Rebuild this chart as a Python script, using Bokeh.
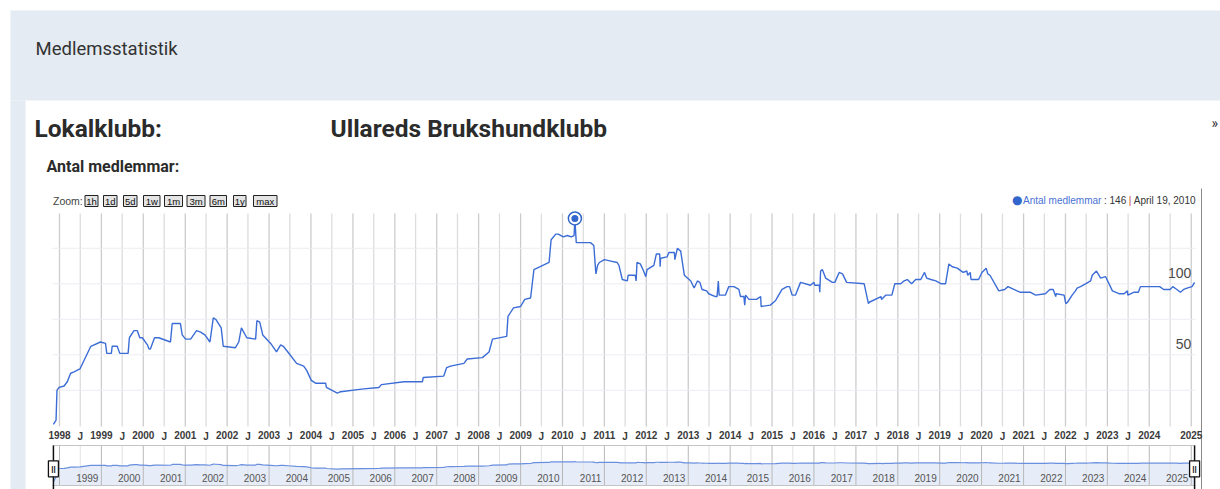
import numpy as np
import pandas as pd
from bokeh.plotting import figure
from bokeh.models import Range1d, LinearScale, LogScale
from bokeh.embed import file_html
from bokeh.resources import INLINE
from bokeh.core.properties import value

# ---------------- data ----------------
dates = [
    "1997-11-09", "1997-12-02", "1997-12-10", "1997-12-28", "1998-02-10", "1998-03-10",
    "1998-04-08", "1998-05-08", "1998-06-28", "1998-10-01", "1998-12-24", "1999-02-06",
    "1999-02-17", "1999-03-29", "1999-04-05", "1999-05-19", "1999-06-10", "1999-08-22",
    "1999-09-02", "1999-10-12", "1999-11-10", "1999-12-02", "1999-12-24", "2000-02-06",
    "2000-02-20", "2000-03-03", "2000-04-08", "2000-05-15", "2000-08-25", "2000-09-09",
    "2000-11-20", "2000-12-05", "2001-01-04", "2001-02-17", "2001-04-09", "2001-05-15",
    "2001-06-21", "2001-08-04", "2001-09-02", "2001-09-24", "2001-11-10", "2001-11-28",
    "2002-03-14", "2002-04-12", "2002-05-05", "2002-06-21", "2002-09-06", "2002-09-17",
    "2002-10-12", "2002-11-07", "2003-01-15", "2003-03-07", "2003-04-12", "2003-05-05",
    "2003-06-14", "2003-08-29", "2003-10-30", "2003-11-25", "2004-01-04", "2004-02-10",
    "2004-05-08", "2004-05-15", "2004-08-18", "2004-09-16", "2005-04-05", "2005-08-15",
    "2005-09-06", "2006-03-22", "2006-08-29", "2006-09-06", "2007-03-03", "2007-03-29",
    "2007-05-01", "2007-08-26", "2007-09-24", "2008-02-03", "2008-04-01", "2008-05-01",
    "2008-09-02", "2008-09-13", "2008-10-31", "2009-01-01", "2009-02-06", "2009-03-29",
    "2009-04-27", "2009-09-06", "2009-09-24", "2009-11-03", "2009-11-25", "2010-01-08",
    "2010-02-14", "2010-03-18", "2010-04-12", "2010-04-19", "2010-05-01", "2010-09-02",
    "2010-10-01", "2010-10-19", "2010-11-03", "2010-11-18", "2011-01-01", "2011-02-28",
    "2011-04-23", "2011-05-08", "2011-06-06", "2011-07-20", "2011-07-27", "2011-09-27",
    "2011-10-05", "2011-10-12", "2011-11-10", "2011-12-09", "2011-12-28", "2012-01-08",
    "2012-03-07", "2012-03-29", "2012-04-27", "2012-05-01", "2012-05-05", "2012-07-01",
    "2012-07-16", "2012-09-02", "2012-09-06", "2012-09-28", "2012-10-27", "2012-11-28",
    "2013-01-23", "2013-02-21", "2013-03-22", "2013-04-12", "2013-05-01", "2013-06-10",
    "2013-06-28", "2013-08-26", "2013-09-09", "2013-09-20", "2013-09-27", "2013-11-20",
    "2013-12-20", "2014-02-03", "2014-03-18", "2014-04-01", "2014-05-01", "2014-05-08",
    "2014-05-15", "2014-06-14", "2014-08-18", "2014-09-24", "2014-09-28", "2014-12-17",
    "2015-01-30", "2015-02-28", "2015-03-29", "2015-05-12", "2015-06-03", "2015-06-25",
    "2015-07-24", "2015-09-06", "2015-12-02", "2016-01-01", "2016-01-08", "2016-02-17",
    "2016-02-21", "2016-02-28", "2016-03-14", "2016-04-12", "2016-06-10", "2016-07-01",
    "2016-08-08", "2016-09-06", "2016-10-12", "2017-03-14", "2017-04-20", "2017-04-27",
    "2017-08-08", "2017-08-12", "2017-09-17", "2017-11-10", "2017-12-06", "2018-01-26",
    "2018-02-24", "2018-03-25", "2018-05-01", "2018-06-06", "2018-07-20", "2018-08-22",
    "2018-09-09", "2018-10-16", "2018-11-28", "2019-01-15", "2019-02-21", "2019-03-22",
    "2019-04-20", "2019-06-03", "2019-07-24", "2019-08-26", "2019-09-02", "2019-09-24",
    "2019-10-01", "2019-12-06", "2020-01-04", "2020-02-10", "2020-02-24", "2020-03-14",
    "2020-05-30", "2020-07-20", "2020-08-18", "2020-10-08", "2020-12-05", "2021-03-03",
    "2021-04-16", "2021-07-09", "2021-08-18", "2021-09-16", "2021-10-08", "2021-10-12",
    "2021-12-20", "2022-01-04", "2022-01-19", "2022-02-28", "2022-03-29", "2022-04-12",
    "2022-05-12", "2022-06-25", "2022-08-08", "2022-08-22", "2022-09-28", "2022-11-03",
    "2022-12-17", "2023-02-14", "2023-04-12", "2023-05-27", "2023-06-25", "2023-06-28",
    "2023-08-18", "2023-09-28", "2023-10-16", "2023-12-24", "2024-04-01", "2024-05-05",
    "2024-07-01", "2024-07-24", "2024-08-29", "2024-09-28", "2024-10-27", "2024-11-25",
    "2025-01-08", "2025-01-30",
]
members = [
    1, 4, 25, 27, 28, 31,
    37, 38, 40, 56, 59, 58,
    51, 51, 56, 56, 51, 51,
    62, 67, 67, 62, 62, 57,
    54, 54, 62, 62, 59, 72,
    72, 64, 61, 61, 67, 66,
    64, 59, 76, 75, 69, 56,
    55, 59, 69, 62, 61, 74,
    73, 64, 58, 52, 57, 56,
    52, 44, 42, 39, 32, 30,
    30, 27, 23, 24, 26, 27,
    29, 31, 31, 34, 35, 41,
    42, 44, 47, 48, 52, 61,
    63, 77, 83, 84, 89, 90,
    110, 115, 131, 135, 135, 133,
    134, 133, 134, 146, 129, 129,
    127, 107, 113, 115, 117, 116,
    115, 113, 103, 102, 106, 106,
    102, 115, 114, 109, 105, 110,
    113, 121, 121, 112, 118, 119,
    122, 122, 117, 125, 123, 106,
    102, 97, 102, 101, 96, 95,
    93, 91, 91, 102, 92, 92,
    98, 98, 96, 91, 91, 85,
    92, 89, 89, 91, 84, 85,
    88, 92, 96, 98, 98, 92,
    92, 101, 99, 101, 99, 99,
    94, 109, 110, 104, 101, 101,
    108, 107, 101, 100, 86, 87,
    91, 89, 92, 92, 100, 100,
    102, 103, 100, 103, 103, 108,
    104, 103, 102, 100, 100, 114,
    112, 111, 108, 109, 106, 108,
    103, 103, 108, 111, 107, 106,
    95, 96, 98, 96, 94, 94,
    92, 93, 96, 96, 91, 93,
    92, 86, 87, 92, 95, 97,
    98, 100, 102, 106, 109, 104,
    105, 95, 93, 93, 95, 92,
    94, 94, 98, 98, 98, 96,
    96, 98, 96, 94, 96, 97,
    98, 101,
]
years = list(range(1998, 2026))
year_tick_dates = [f"{y}-01-01" for y in years]
july_tick_dates = [f"{y}-07-01" for y in years[:-1]]
axis_tick_dates = year_tick_dates + [d for d in july_tick_dates if d != "2024-07-01"]
axis_tick_labels = [d[:4] for d in year_tick_dates] + ["J"] * (len(axis_tick_dates) - len(year_tick_dates))
nav_label_dates = year_tick_dates[1:]
nav_labels = [d[:4] for d in nav_label_dates]
value_ticks = [50, 100]
value_grid = [25, 50, 75, 100, 125]
series_name = "Antal medlemmar"
zoom_buttons = ["1h", "1d", "5d", "1w", "1m", "3m", "6m", "1y", "max"]

# ---------------- page geometry (pixels) ----------------
W, H = 1220, 489
CL, CR = 52, 1195          # chart left / right
CT, CB = 213, 426          # chart top / bottom
NT, NB = 445, 485          # navigator top / bottom
T0, T1 = pd.Timestamp("1997-11-01"), pd.Timestamp("2025-02-07")   # chart time extent
V0, V1 = -0.5, 149.5       # chart value extent
N0, N1 = 0.447, 6877.0     # navigator (log) value extent

# derived ranges so that the chart area maps exactly onto its pixel box
k_t = (T1 - T0) / (CR - CL)
time_range = Range1d(start=T0 - CL * k_t, end=T1 + (W - CR) * k_t)
k_v = (V1 - V0) / (CB - CT)
val_range = Range1d(start=V0 - (H - CB) * k_v, end=V1 + CT * k_v)
k_n = (np.log(N1) - np.log(N0)) / (NB - NT)
nav_range = Range1d(start=float(np.exp(np.log(N0) - (H - NB) * k_n)),
                    end=float(np.exp(np.log(N1) + NT * k_n)))

FONT_UI = "Roboto"
FONT_CH = "Liberation Sans"
BLUE = "#3366cc"
BAND = "#e4ebf2"

p = figure(width=W, height=H, x_range=Range1d(0, W), y_range=Range1d(H, 0),
           x_axis_location=None, y_axis_location=None,
           min_border_left=0, min_border_right=0, min_border_top=0, min_border_bottom=0,
           toolbar_location=None, output_backend="svg", outline_line_color=None,
           background_fill_color="white", border_fill_color="white")
p.extra_x_ranges = {"time": time_range}
p.extra_x_scales = {"time": LinearScale()}
p.extra_y_ranges = {"val": val_range, "nav": nav_range}
p.extra_y_scales = {"val": LinearScale(), "nav": LogScale()}
p.xgrid.visible = False
p.ygrid.visible = False

dt = pd.to_datetime(dates)
yr = pd.to_datetime(year_tick_dates)
jul = pd.to_datetime(july_tick_dates)

# ---------------- page chrome ----------------
p.quad(left=[10, 10], right=[W, 25], top=[10, 100], bottom=[100, H],
       fill_color=BAND, line_color=None)
p.segment(x0=[1201], x1=[1201], y0=[188], y1=[H], line_color="#8a8a8a", line_width=1)

def txt(x, y, s, size, color="#333333", font=FONT_UI, style="normal", align="left",
        baseline="middle"):
    p.text(x=[x], y=[y], text=[s], text_font=value(font), text_font_size=f"{size}px",
           text_font_style=style, text_color=color, text_align=align,
           text_baseline=baseline)

txt(35, 48, "Medlemsstatistik", 18.5, "#333333")
txt(34, 127.5, "Lokalklubb:", 24.5, "#2b2b2b", style="bold")
txt(330, 127.5, "Ullareds Brukshundklubb", 24.5, "#2b2b2b", style="bold")
txt(1211, 122, "»", 14, "#333333")
txt(46, 166, "Antal medlemmar:", 16, "#2b2b2b", style="bold")

txt(52.5, 200, "Zoom:", 10.5, "#444444", font=FONT_CH)
button_left = [84.5, 103, 123, 143, 164, 186.5, 209.5, 233, 253]
button_right = [97.5, 116.5, 136.5, 159.5, 182, 204.5, 226, 245.5, 276.5]
p.quad(left=button_left, right=button_right, top=[195] * 9, bottom=[206] * 9,
       fill_color="#e4e4e4", line_color="#222222", line_width=1)
p.text(x=[(a + b) / 2 for a, b in zip(button_left, button_right)], y=[200.5] * 9,
       text=zoom_buttons, text_font=value(FONT_CH), text_font_size="9.5px",
       text_color="#111111", text_align="center", text_baseline="middle")

# ---------------- main chart ----------------
p.segment(x0=jul, x1=jul, y0=[V0] * len(jul), y1=[V1] * len(jul),
          x_range_name="time", y_range_name="val", line_color="#dddddd", line_width=1.3)
p.segment(x0=yr, x1=yr, y0=[V0] * len(yr), y1=[V1] * len(yr),
          x_range_name="time", y_range_name="val", line_color="#cccccc", line_width=1.3)
p.segment(x0=[T0] * len(value_grid), x1=[T1] * len(value_grid), y0=value_grid, y1=value_grid,
          x_range_name="time", y_range_name="val", line_color="#ececf3", line_width=1)

p.text(x=pd.to_datetime(axis_tick_dates), y=[V0] * len(axis_tick_dates), text=axis_tick_labels,
       x_range_name="time", y_range_name="val", y_offset=4, text_align="center",
       text_baseline="top", text_font=value(FONT_CH), text_font_size="10px",
       text_font_style="bold", text_color="#3a3a3a")

p.text(x=[pd.Timestamp(year_tick_dates[-1])] * len(value_ticks), y=value_ticks,
       text=[str(v) for v in value_ticks], x_range_name="time", y_range_name="val",
       text_align="right", text_baseline="middle", y_offset=-11,
       text_font=value(FONT_CH), text_font_size="14px", text_color="#4a4a4a")

p.line(x=dt, y=members, x_range_name="time", y_range_name="val",
       line_color="#3c6dd6", line_width=1.4)

imax = int(np.argmax(members))
p.scatter(x=[dt[imax]], y=[members[imax]], x_range_name="time", y_range_name="val",
          size=13, fill_color="white", line_color=BLUE, line_width=1.5)
p.scatter(x=[dt[imax]], y=[members[imax]], x_range_name="time", y_range_name="val",
          size=7, fill_color=BLUE, line_color=None)

# readout
peak_date = dt[imax]
txt(1016.7, 199.5, "●", 12, BLUE, font="DejaVu Sans", align="center")
txt(1022.5, 199.5, series_name, 10, "#4a72d4", font=FONT_CH)
txt(1103.5, 199.5, f": {members[imax]}", 10, "#333333", font=FONT_CH)
txt(1129.5, 199.5, "|", 10, "#c0392b", font=FONT_CH, align="center")
txt(1195, 199.5, f"{peak_date.strftime('%B')} {peak_date.day}, {peak_date.year}",
    10, "#333333", font=FONT_CH, align="right")

# ---------------- navigator ----------------
p.varea(x=dt, y1=N0, y2=members, x_range_name="time", y_range_name="nav",
        fill_color="#e6ecf8", fill_alpha=1.0)
p.segment(x0=jul, x1=jul, y0=[N0] * len(jul), y1=[N1] * len(jul),
          x_range_name="time", y_range_name="nav", line_color="#e2e2e2", line_width=1)
p.segment(x0=yr, x1=yr, y0=[N0] * len(yr), y1=[N1] * len(yr),
          x_range_name="time", y_range_name="nav", line_color="#b8b8b8", line_width=1)
p.line(x=dt, y=members, x_range_name="time", y_range_name="nav",
       line_color="#6a8fdf", line_width=1.2)
p.segment(x0=[T0, T0], x1=[T1, T1], y0=[N0, N1], y1=[N0, N1],
          x_range_name="time", y_range_name="nav", line_color="#c4c4c4", line_width=1)

p.text(x=pd.to_datetime(nav_label_dates), y=[N0] * len(nav_labels), text=nav_labels,
       x_range_name="time", y_range_name="nav", text_align="right",
       text_baseline="middle", x_offset=-3, y_offset=-7.5,
       text_font=value(FONT_CH), text_font_size="10px", text_color="#555555")

handles = [dt[0], dt[-1]]
p.segment(x0=handles, x1=handles, y0=[N0 * 0.4] * 2, y1=[N1] * 2,
          x_range_name="time", y_range_name="nav", line_color="#111111", line_width=1.5)
p.rect(x=handles, y=[25] * 2, width=10, height=16,
       width_units="screen", height_units="screen", x_range_name="time", y_range_name="nav",
       fill_color="white", line_color="#111111", line_width=1.3)
p.text(x=handles, y=[25] * 2, text=["||", "||"], x_range_name="time", y_range_name="nav",
       text_align="center", text_baseline="middle", text_font=value(FONT_CH),
       text_font_size="8px", text_font_style="bold", text_color="#111111")

open("out.html", "w").write(file_html(p, INLINE))
